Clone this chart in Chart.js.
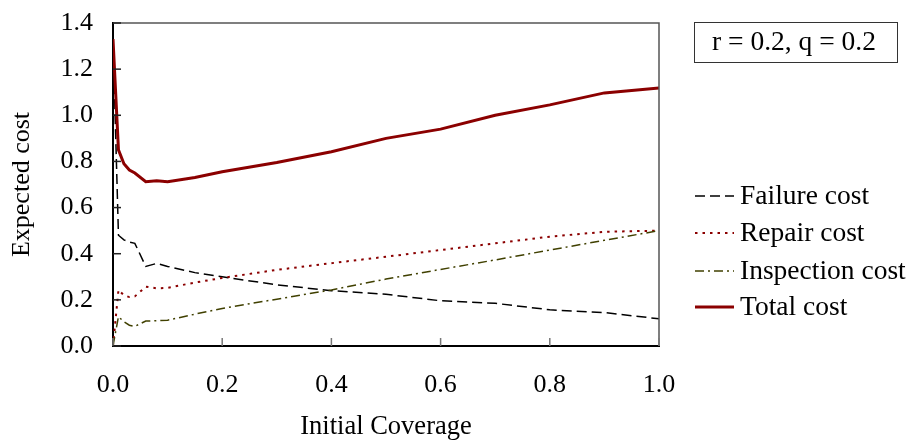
<!DOCTYPE html>
<html>
<head>
<meta charset="utf-8">
<script src="https://cdn.jsdelivr.net/npm/chart.js@4"></script>
<style>
  html, body { margin: 0; padding: 0; background: #fff; }
  #costChart { display: block; }
</style>
</head>
<body>
<canvas id="costChart" width="909" height="443"></canvas>
<script>
const coverage = [0, 0.01, 0.02, 0.03, 0.04, 0.06, 0.08, 0.1, 0.15, 0.2, 0.3, 0.4, 0.5, 0.6, 0.7, 0.8, 0.9, 1.0];
const failureCost = [1.33, 0.48, 0.46, 0.45, 0.445, 0.345, 0.358, 0.345, 0.318, 0.30, 0.265, 0.24, 0.224, 0.196, 0.185, 0.157, 0.145, 0.118];
const repairCost = [0.0, 0.243, 0.22, 0.212, 0.215, 0.257, 0.25, 0.252, 0.275, 0.295, 0.33, 0.359, 0.387, 0.416, 0.445, 0.474, 0.495, 0.50];
const inspectionCost = [0.0, 0.127, 0.105, 0.09, 0.085, 0.108, 0.11, 0.112, 0.138, 0.163, 0.203, 0.243, 0.29, 0.332, 0.373, 0.416, 0.458, 0.50];
const totalCost = [1.33, 0.85, 0.79, 0.763, 0.75, 0.712, 0.716, 0.712, 0.73, 0.755, 0.795, 0.842, 0.90, 0.94, 1.0, 1.045, 1.097, 1.118];
const seriesNames = ['Failure cost', 'Repair cost', 'Inspection cost', 'Total cost'];
const annotation = 'r = 0.2, q = 0.2';

const FONT = '"Liberation Serif", "Times New Roman", serif';

const toPoints = (values) => values.map((v, i) => ({ x: coverage[i], y: v }));

const styles = [
  { color: '#000000', width: 1.5, dash: [10, 5] },
  { color: '#8b0000', width: 2, dash: [2.5, 5] },
  { color: '#404000', width: 1.5, dash: [9, 4, 2, 4] },
  { color: '#8b0000', width: 3, dash: [] },
];

const makeDataset = (label, values, idx) => ({
  label: label,
  data: toPoints(values),
  borderColor: styles[idx].color,
  borderWidth: styles[idx].width,
  borderDash: styles[idx].dash,
  pointRadius: 0,
  tension: 0,
  fill: false,
  order: 3 - idx,
});

// ticks pointing inside, frame and the side legend
const decorPlugin = {
  id: 'decor',
  afterDatasetsDraw(chart) {
    const { ctx, chartArea: a, scales } = chart;
    ctx.save();
    ctx.setLineDash([]);
    ctx.strokeStyle = '#555';
    ctx.lineWidth = 1.5;
    ctx.beginPath();
    ctx.moveTo(a.left, a.top);
    ctx.lineTo(a.right, a.top);
    ctx.lineTo(a.right, a.bottom);
    ctx.stroke();

    ctx.strokeStyle = '#777';
    scales.x.ticks.forEach((t) => {
      const px = scales.x.getPixelForValue(t.value);
      ctx.beginPath();
      ctx.moveTo(px, a.bottom);
      ctx.lineTo(px, a.bottom - 8);
      ctx.stroke();
    });
    ctx.strokeStyle = '#222';
    scales.y.ticks.forEach((t) => {
      const py = scales.y.getPixelForValue(t.value);
      ctx.beginPath();
      ctx.moveTo(a.left, py);
      ctx.lineTo(a.left + 8, py);
      ctx.stroke();
    });
    ctx.restore();
  },
  afterDraw(chart) {
    const { ctx } = chart;
    ctx.save();
    // parameter box
    ctx.strokeStyle = '#333';
    ctx.lineWidth = 1;
    ctx.strokeRect(694.5, 22.5, 203, 40);
    ctx.fillStyle = '#000';
    ctx.font = '27.5px ' + FONT;
    ctx.textAlign = 'center';
    ctx.textBaseline = 'middle';
    ctx.fillText(annotation, 794, 43);

    // legend
    const rows = [196, 233, 271, 307];
    ctx.textAlign = 'left';
    seriesNames.forEach((name, i) => {
      ctx.strokeStyle = styles[i].color;
      ctx.lineWidth = styles[i].width;
      ctx.setLineDash(styles[i].dash);
      ctx.beginPath();
      ctx.moveTo(695, rows[i]);
      ctx.lineTo(734, rows[i]);
      ctx.stroke();
      ctx.setLineDash([]);
      ctx.fillStyle = '#000';
      ctx.fillText(name, 740, rows[i] + 1);
    });
    ctx.restore();
  },
};

const costChart = new Chart(document.getElementById('costChart'), {
  type: 'line',
  data: {
    datasets: [
      makeDataset(seriesNames[0], failureCost, 0),
      makeDataset(seriesNames[1], repairCost, 1),
      makeDataset(seriesNames[2], inspectionCost, 2),
      makeDataset(seriesNames[3], totalCost, 3),
    ],
  },
  options: {
    responsive: false,
    animation: false,
    layout: { padding: { left: 0, right: 250, top: 23, bottom: 0 } },
    plugins: {
      legend: { display: false },
      tooltip: { enabled: false },
    },
    scales: {
      x: {
        type: 'linear',
        min: 0,
        max: 1,
        afterFit: (scale) => {
          scale.height = 97;
          scale.paddingLeft = 0;
          scale.paddingRight = 0;
        },
        grid: { display: false, drawTicks: false },
        border: { display: true, color: '#000', width: 2 },
        ticks: {
          stepSize: 0.2,
          padding: 24,
          color: '#000',
          font: { family: FONT, size: 26 },
          callback: (v) => v.toFixed(1),
        },
        title: {
          display: true,
          text: 'Initial Coverage',
          color: '#000',
          font: { family: FONT, size: 26.5 },
          padding: { top: 0, bottom: 0 },
        },
      },
      y: {
        min: 0,
        max: 1.4,
        afterFit: (scale) => {
          scale.width = 113;
          scale.paddingTop = 0;
          scale.paddingBottom = 0;
        },
        grid: { display: false, drawTicks: false },
        border: { display: true, color: '#000', width: 2 },
        ticks: {
          stepSize: 0.2,
          padding: 20,
          color: '#000',
          font: { family: FONT, size: 26 },
          callback: (v) => v.toFixed(1),
        },
        title: {
          display: true,
          text: 'Expected cost',
          color: '#000',
          font: { family: FONT, size: 26 },
          padding: { top: 7, bottom: 0 },
        },
      },
    },
  },
  plugins: [decorPlugin],
});
</script>
</body>
</html>
